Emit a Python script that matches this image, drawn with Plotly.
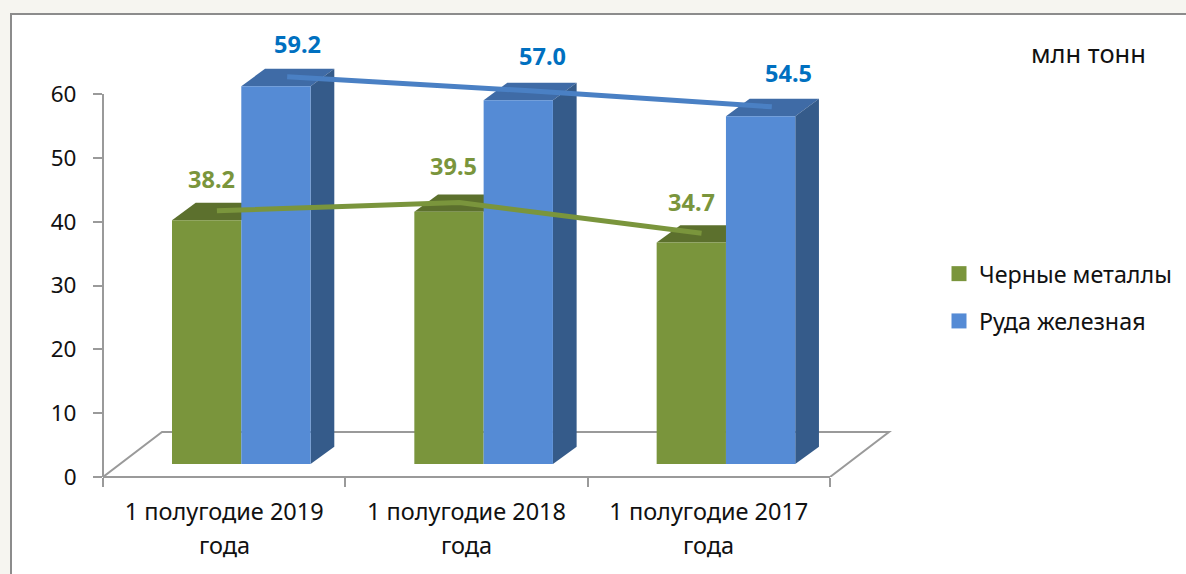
import plotly.graph_objects as go

# ---- data ----
periods = ["1 полугодие 2019", "1 полугодие 2018", "1 полугодие 2017"]
period_suffix = "года"
ferrous = [38.2, 39.5, 34.7]
ore = [59.2, 57.0, 54.5]
y_ticks = [0, 10, 20, 30, 40, 50, 60]

# ---- page geometry (pixels) ----
W, H = 1186, 574
LEFT, BOTTOM, TOP = 103, 477, 15
PX_X = 242.33   # px per category
PX_Y = 6.383    # px per unit

FONT = "Noto Sans"
TXT = "#111111"
GREY = "#9a9a9a"
GREEN, GREEN_TOP = "#7a953c", "#5c702d"
BLUE, BLUE_TOP, BLUE_SIDE = "#558bd5", "#3f6ba6", "#355b8a"
LINE_BLUE = "#4a80c4"
LABEL_BLUE = "#0070c0"

# 3-D styling, in axis units
BASE = 13 / PX_Y
DX, DY = 23.7 / PX_X, 17.3 / PX_Y
FLOOR_DX, FLOOR_DY = 59 / PX_X, 45 / PX_Y
BAR_W = 69.3 / PX_X
GREEN_OFF = (172 - LEFT) / PX_X
LINE_LIFT = 3.5
x_rng = (W - LEFT) / PX_X
y_rng = (BOTTOM - TOP) / PX_Y
n = len(periods)
centers = [i + 0.5 for i in range(n)]


def px(x):
    return (x - LEFT) / (W - LEFT)


def py(y):
    return (BOTTOM - y) / (BOTTOM - TOP)


def poly(points, fill):
    d = "M" + "L".join(f"{x},{y}" for x, y in points) + "Z"
    return dict(type="path", path=d, xref="x", yref="y", fillcolor=fill,
                line=dict(width=0), layer="below")


shapes = [
    # card
    dict(type="rect", xref="paper", yref="paper", x0=px(11), x1=px(W + 20),
         y0=py(H + 20), y1=py(14), fillcolor="white",
         line=dict(color="#8c8c8c", width=2), layer="below"),
    # floor
    dict(type="path", xref="x", yref="y",
         path=f"M0,0L{FLOOR_DX},{FLOOR_DY}L{n + FLOOR_DX},{FLOOR_DY}L{n},0",
         line=dict(color=GREY, width=2), fillcolor="rgba(0,0,0,0)", layer="below"),
    # axis lines
    dict(type="line", xref="paper", yref="y", x0=0, x1=0, y0=0, y1=max(y_ticks),
         line=dict(color=GREY, width=2), layer="below"),
    dict(type="line", xref="x", yref="paper", x0=0, x1=n, y0=0, y1=0,
         line=dict(color=GREY, width=2), layer="below"),
]

for i, (g, b) in enumerate(zip(ferrous, ore)):
    gl = i + GREEN_OFF
    gr = gl + BAR_W
    bl, br = gr, gr + BAR_W
    gt, bt = BASE + g, BASE + b
    shapes.append(poly([(gl, gt), (gl + DX, gt + DY), (gr + DX, gt + DY), (gr, gt)], GREEN_TOP))
    shapes.append(poly([(bl, bt), (bl + DX, bt + DY), (br + DX, bt + DY), (br, bt)], BLUE_TOP))
    shapes.append(poly([(br, BASE), (br + DX, BASE + DY), (br + DX, bt + DY), (br, bt)], BLUE_SIDE))

fig = go.Figure()
fig.add_bar(x=centers, y=ferrous, base=BASE, width=BAR_W, offset=GREEN_OFF - 0.5,
            marker=dict(color=GREEN, line=dict(width=0)), showlegend=False,
            name="Черные металлы", cliponaxis=False)
fig.add_bar(x=centers, y=ore, base=BASE, width=BAR_W, offset=GREEN_OFF + BAR_W - 0.5,
            marker=dict(color=BLUE, line=dict(width=0)), showlegend=False,
            name="Руда железная", cliponaxis=False)

fig.add_scatter(x=[i + 0.47 for i in range(n)], y=[v + LINE_LIFT for v in ferrous],
                mode="lines", line=dict(color=GREEN, width=5), showlegend=False,
                cliponaxis=False, hoverinfo="skip")
fig.add_scatter(x=[i + 0.76 for i in range(n)], y=[v + LINE_LIFT for v in ore],
                mode="lines", line=dict(color=LINE_BLUE, width=5), showlegend=False,
                cliponaxis=False, hoverinfo="skip")

# legend entries
fig.add_scatter(x=[None], y=[None], mode="markers", name="Черные металлы",
                legendgroup="a", marker=dict(symbol="square", size=15, color=GREEN))
fig.add_scatter(x=[None], y=[None], mode="markers", name="Руда железная",
                legendgroup="b", marker=dict(symbol="square", size=15, color=BLUE))

annotations = []
g_shift = [(-5, 32), (-6, 37), (-10, 31)]
b_shift = [(10, 33), (13, 35), (17, 34)]
for i in range(n):
    annotations.append(dict(x=i + 0.47, y=ferrous[i] + LINE_LIFT, xref="x", yref="y",
                            text=f"{ferrous[i]:.1f}", showarrow=False,
                            xshift=g_shift[i][0], yshift=g_shift[i][1],
                            font=dict(family=FONT, size=23.5, color=GREEN, weight="bold")))
    annotations.append(dict(x=i + 0.76, y=ore[i] + LINE_LIFT, xref="x", yref="y",
                            text=f"{ore[i]:.1f}", showarrow=False,
                            xshift=b_shift[i][0], yshift=b_shift[i][1],
                            font=dict(family=FONT, size=23.5, color=LABEL_BLUE, weight="bold")))
    annotations.append(dict(x=centers[i], y=py(545), xref="x", yref="paper",
                            xanchor="center", yanchor="middle",
                            text=period_suffix, showarrow=False,
                            font=dict(family=FONT, size=23.5, color=TXT)))
annotations.append(dict(x=px(1088), y=py(53), xref="paper", yref="paper", text="млн тонн",
                        xanchor="center", yanchor="middle",
                        showarrow=False, font=dict(family=FONT, size=25.5, color=TXT)))

fig.update_layout(
    width=W, height=H, autosize=False,
    margin=dict(l=LEFT, r=0, t=TOP, b=H - BOTTOM, autoexpand=False),
    paper_bgcolor="#f6f5f0", plot_bgcolor="rgba(0,0,0,0)",
    barmode="overlay", shapes=shapes, annotations=annotations,
    font=dict(family=FONT, size=23, color=TXT),
    xaxis=dict(range=[0, x_rng], tickmode="array", tickvals=centers, ticktext=periods,
               ticks="", showgrid=False, zeroline=False, showline=False,
               tickfont=dict(size=23.5), ticklabelstandoff=18,
               minor=dict(tickmode="array", tickvals=list(range(n + 1)), ticks="outside",
                          ticklen=9, tickwidth=2, tickcolor=GREY, showgrid=False)),
    yaxis=dict(range=[0, y_rng], tickmode="array", tickvals=y_ticks, ticks="outside",
               ticklen=9, tickwidth=2, tickcolor=GREY, showgrid=False, zeroline=False,
               showline=False, ticklabelstandoff=12, tickfont=dict(size=22.5)),
    legend=dict(x=px(939), y=py(252), xanchor="left", yanchor="top",
                bgcolor="rgba(0,0,0,0)", tracegroupgap=14, itemwidth=30,
                font=dict(family=FONT, size=23.3, color=TXT)),
)

fig.write_html("out.html", config={"displayModeBar": False},
               post_script="document.body.style.margin='0';")
